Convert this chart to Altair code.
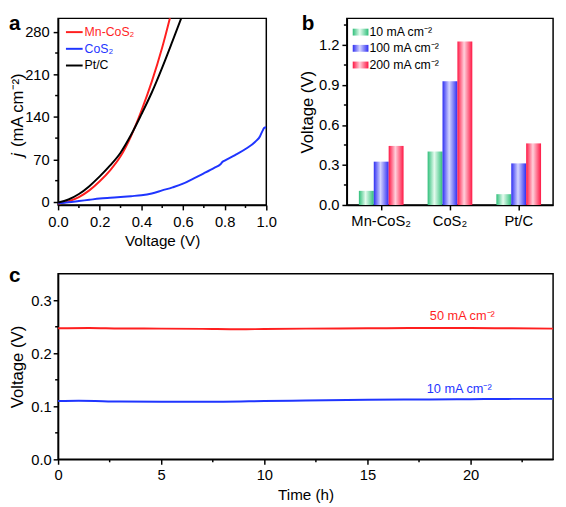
import altair as alt
import pandas as pd

FONT = "Liberation Sans"

# ---------------- panel a: polarization curves ----------------
a_series = ["Mn-CoS₂", "CoS₂", "Pt/C"]
a_colors = ["#ff1f1f", "#1f35ff", "#000000"]

mn_v = [0.00, 0.05, 0.10, 0.15, 0.20, 0.25, 0.30, 0.35, 0.40, 0.45, 0.50, 0.55]
mn_j = [-3, 1, 8, 19, 34, 52, 75, 108, 150, 198, 254, 320]

cos2_v = [0.00, 0.05, 0.10, 0.15, 0.20, 0.25, 0.30, 0.35, 0.40, 0.45, 0.50, 0.55,
          0.60, 0.65, 0.70, 0.75, 0.78, 0.79, 0.80, 0.85, 0.90, 0.95, 0.97, 0.975,
          0.985, 0.99, 1.00]
cos2_j = [-2, -0.5, 1.5, 3.5, 5.5, 6.8, 8, 9.5, 11, 14, 19, 24,
          30, 38.5, 47, 56, 62, 66, 68, 77, 87, 100, 108, 112,
          119, 122, 123]

ptc_v = [0.00, 0.05, 0.10, 0.15, 0.20, 0.25, 0.30, 0.35, 0.40, 0.45, 0.50, 0.55, 0.60]
ptc_j = [-1, 4, 13, 26, 42, 60, 81, 110, 144, 180, 221, 265, 310]

a_x_major = [0.0, 0.2, 0.4, 0.6, 0.8, 1.0]
a_x_minor = [0.1, 0.3, 0.5, 0.7, 0.9]
a_y_major = [0, 70, 140, 210, 280]
a_y_minor = [35, 105, 175, 245]
a_title_parts = ["j", "(mA cm⁻²)"]

# ---------------- panel b: overpotentials ----------------
b_catalysts = ["Mn-CoS₂", "CoS₂", "Pt/C"]
b_currents = ["10 mA cm⁻²", "100 mA cm⁻²", "200 mA cm⁻²"]
b_v10 = [0.106, 0.401, 0.081]
b_v100 = [0.325, 0.929, 0.312]
b_v200 = [0.443, 1.227, 0.462]
b_dark = ["#2fbf7a", "#2f2ff2", "#ff1744"]
b_pale = ["#e4fbee", "#d4d4ff", "#ffd0db"]

b_y_major = [0.0, 0.3, 0.6, 0.9, 1.2]
b_y_minor = [0.15, 0.45, 0.75, 1.05, 1.35]

# ---------------- panel c: stability ----------------
c_series = ["50 mA cm⁻²", "10 mA cm⁻²"]
c_colors = ["#ff1f1f", "#1f35ff"]
c_t_50 = [0, 1.5, 3, 5, 7, 8.8, 10, 12, 15, 17, 19, 20, 22, 24]
c_v_50 = [0.247, 0.2478, 0.2468, 0.2465, 0.246, 0.2452, 0.2458, 0.2465, 0.247,
          0.2475, 0.2478, 0.2477, 0.247, 0.2465]
c_t_10 = [0, 1, 3, 5, 8, 10, 12, 15, 18, 20, 22, 24]
c_v_10 = [0.110, 0.1105, 0.109, 0.1085, 0.1088, 0.110, 0.111, 0.1125, 0.113,
          0.1135, 0.114, 0.114]
c_label_t = [19.6, 19.45]
c_label_v = [0.2625, 0.1247]

c_x_major = [0, 5, 10, 15, 20]
c_x_minor = [2.5, 7.5, 12.5, 17.5, 22.5]
c_y_major = [0.0, 0.1, 0.2, 0.3]
c_y_minor = [0.05, 0.15, 0.25]


def axis(major, fmt, title, label_pad, extent, title_pad, title_size):
    return alt.Axis(
        values=major, format=fmt, title=title, tickSize=5,
        labelOverlap=False, labelFlush=False, labelPadding=label_pad,
        minExtent=extent, maxExtent=extent, titlePadding=title_pad,
        titleFontSize=title_size,
    )


def minor_x(vals, field, scale, ax, height):
    return alt.Chart(pd.DataFrame({field: vals})).mark_rule(
        color="black", strokeWidth=1.5).encode(
        x=alt.X(f"{field}:Q", scale=scale, axis=ax),
        y=alt.value(height), y2=alt.value(height + 3))


def minor_y(vals, field, scale, ax):
    return alt.Chart(pd.DataFrame({field: vals})).mark_rule(
        color="black", strokeWidth=1.5).encode(
        y=alt.Y(f"{field}:Q", scale=scale, axis=ax),
        x=alt.value(0), x2=alt.value(-3))


def letter(ch, x, y):
    return alt.Chart(pd.DataFrame({"t": [ch]})).mark_text(
        fontSize=21, fontWeight="bold", align="left", baseline="alphabetic",
        font=FONT, color="black").encode(x=alt.value(x), y=alt.value(y), text="t:N")


def grad(dark, pale):
    return alt.LinearGradient(
        gradient="linear", x1=0, x2=1, y1=0, y2=0,
        stops=[alt.GradientStop(offset=0, color=dark),
               alt.GradientStop(offset=0.45, color=pale),
               alt.GradientStop(offset=1, color=dark)])


# ---- panel a ----
rows = []
for name, vs, js in zip(a_series, [mn_v, cos2_v, ptc_v], [mn_j, cos2_j, ptc_j]):
    rows += [{"series": name, "V": v, "j": j} for v, j in zip(vs, js)]
df_a = pd.DataFrame(rows)

a_xs = alt.Scale(domain=[0, 1], nice=False, zero=False)
a_ys = alt.Scale(domain=[-5, 302], nice=False, zero=False)
a_xax = axis(a_x_major, ".1f", "Voltage (V)", 5, 24, 5, 15.5)
a_yax = axis(a_y_major, "d", None, 4, 31, 2, 17)
a_lines = alt.Chart(df_a).mark_line(strokeWidth=2, clip=True, interpolate="monotone").encode(
    x=alt.X("V:Q", scale=a_xs, axis=a_xax),
    y=alt.Y("j:Q", scale=a_ys, axis=a_yax),
    color=alt.Color("series:N", scale=alt.Scale(domain=a_series, range=a_colors), legend=None),
)

a_layers = [a_lines,
            minor_x(a_x_minor, "V", a_xs, a_xax, 190),
            minor_y(a_y_minor, "j", a_ys, a_yax)]
# y title: italic j + regular unit, rotated
a_layers.append(alt.Chart(pd.DataFrame({"t": [a_title_parts[0]]})).mark_text(
    angle=270, align="left", baseline="alphabetic", fontSize=17, fontStyle="italic",
    font=FONT, color="black").encode(x=alt.value(-35.5), y=alt.value(141), text="t:N"))
a_layers.append(alt.Chart(pd.DataFrame({"t": [a_title_parts[1]]})).mark_text(
    angle=270, align="left", baseline="alphabetic", fontSize=17,
    font=FONT, color="black").encode(x=alt.value(-35.5), y=alt.value(131), text="t:N"))

a_leg_y = [14, 31, 48]
for name, col, yy in zip(a_series, a_colors, a_leg_y):
    d = pd.DataFrame({"label": [name]})
    a_layers.append(alt.Chart(d).mark_rule(color=col, strokeWidth=2).encode(
        x=alt.value(8), x2=alt.value(25), y=alt.value(yy)))
    a_layers.append(alt.Chart(d).mark_text(
        color=col, align="left", baseline="middle", fontSize=12.5, font=FONT).encode(
        x=alt.value(27), y=alt.value(yy), text="label:N"))
a_layers.append(letter("a", -50, 12))
pa = alt.layer(*a_layers).properties(width=212, height=190)

# ---- panel b ----
b_rows = []
for cur, vals in zip(b_currents, [b_v10, b_v100, b_v200]):
    for cat, v in zip(b_catalysts, vals):
        b_rows.append({"catalyst": cat, "current": cur, "value": v})
df_b = pd.DataFrame(b_rows)

b_ys = alt.Scale(domain=[0, 1.4], nice=False)
b_yax = axis(b_y_major, ".1f", "Voltage (V)", 3, 28, 3, 17)
b_enc = dict(
    x=alt.X("catalyst:N",
            scale=alt.Scale(domain=b_catalysts, paddingInner=0.35, paddingOuter=0.175),
            axis=alt.Axis(title=None, labelAngle=0, labelPadding=4, tickSize=5)),
    xOffset=alt.XOffset("current:N", scale=alt.Scale(domain=b_currents)),
    y=alt.Y("value:Q", scale=b_ys, axis=b_yax),
)
b_layers = []
for cur, dk, pl in zip(b_currents, b_dark, b_pale):
    b_layers.append(alt.Chart(df_b).transform_filter(alt.datum.current == cur)
                    .mark_bar(color=grad(dk, pl)).encode(**b_enc))
b_layers.append(minor_y(b_y_minor, "value", b_ys, b_yax))
b_leg_y = [14, 30.5, 47.5]
for cur, dk, pl, yy in zip(b_currents, b_dark, b_pale, b_leg_y):
    d = pd.DataFrame({"label": [cur]})
    b_layers.append(alt.Chart(d).mark_rect(color=grad(dk, pl)).encode(
        x=alt.value(6), x2=alt.value(22), y=alt.value(yy - 3.5), y2=alt.value(yy + 3.5)))
    b_layers.append(alt.Chart(d).mark_text(
        color="black", align="left", baseline="middle", fontSize=12.5, font=FONT).encode(
        x=alt.value(23), y=alt.value(yy), text="label:N"))
b_layers.append(letter("b", -46, 12))
pb = alt.layer(*b_layers).properties(width=210, height=190)

# ---- panel c ----
c_rows = []
for name, ts, vs in zip(c_series, [c_t_50, c_t_10], [c_v_50, c_v_10]):
    c_rows += [{"series": name, "t": t, "v": v} for t, v in zip(ts, vs)]
df_c = pd.DataFrame(c_rows)
df_c_lab = pd.DataFrame({"series": c_series, "t": c_label_t, "v": c_label_v})
c_color = alt.Color("series:N", scale=alt.Scale(domain=c_series, range=c_colors), legend=None)

c_xs = alt.Scale(domain=[0, 24], nice=False)
c_ys = alt.Scale(domain=[0, 0.35], nice=False)
c_xax = axis(c_x_major, "d", "Time (h)", 4, 24, 5, 15.5)
c_yax = axis(c_y_major, ".1f", "Voltage (V)", 2, 30, 2, 17)
c_lines = alt.Chart(df_c).mark_line(strokeWidth=2, interpolate="monotone").encode(
    x=alt.X("t:Q", scale=c_xs, axis=c_xax),
    y=alt.Y("v:Q", scale=c_ys, axis=c_yax),
    color=c_color,
)
c_text = alt.Chart(df_c_lab).mark_text(fontSize=13, baseline="alphabetic", font=FONT).encode(
    x=alt.X("t:Q", scale=c_xs, axis=c_xax), y=alt.Y("v:Q", scale=c_ys, axis=c_yax),
    text="series:N", color=c_color)
pc = alt.layer(c_lines, c_text,
               minor_x(c_x_minor, "t", c_xs, c_xax, 189),
               minor_y(c_y_minor, "v", c_ys, c_yax),
               letter("c", -50, 8)).properties(width=504, height=189)

top = alt.hconcat(pa, pb, spacing=82, bounds="flush")
chart = alt.vconcat(top, pc, spacing=14, bounds="full").properties(padding=0).configure(
    font=FONT
).configure_view(stroke="black", strokeWidth=1.5).configure_axis(
    domainColor="black", domainWidth=1.5, tickColor="black", tickWidth=1.5,
    labelColor="black", titleColor="black", labelFont=FONT, titleFont=FONT,
    labelFontSize=15, titleFontWeight="normal", grid=False,
)

chart.save("out.html", embed_options={"renderer": "svg", "actions": False})
